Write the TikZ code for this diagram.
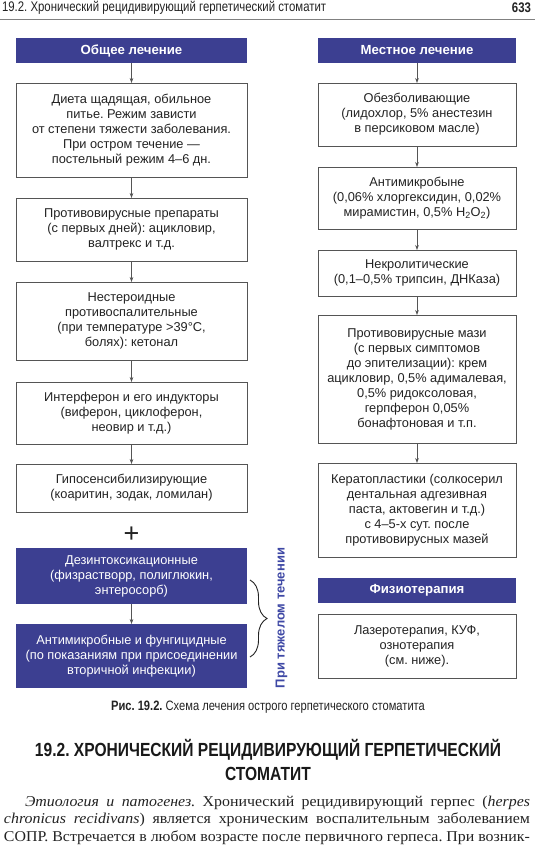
\documentclass[tikz,border=0pt]{standalone}
\usepackage{fontspec}
\setmainfont{Liberation Serif}
\setsansfont{Liberation Sans}
\newfontfamily\condf[FakeStretch=0.82]{Liberation Sans}
\newfontfamily\bodyf[FakeStretch=1.06]{Liberation Serif}
\usetikzlibrary{arrows.meta,decorations.pathreplacing}
\definecolor{hdrblue}{RGB}{60,63,145}
\definecolor{vblue}{RGB}{62,72,165}
\definecolor{boxline}{RGB}{85,85,85}
\definecolor{txt}{RGB}{35,35,35}
\begin{document}
\frenchspacing
\begin{tikzpicture}[x=1pt,y=-1pt,
  every node/.style={inner sep=0pt, outer sep=0pt},
  box/.style={draw=boxline, line width=0.8pt, fill=white, align=center, text=txt,
    font=\sffamily\fontsize{12.8}{15}\selectfont},
  lbox/.style={box, minimum width=231pt},
  rbox/.style={box, minimum width=198pt},
  hdr/.style={fill=hdrblue, text=white, font=\sffamily\bfseries\fontsize{13.2}{15}\selectfont, minimum height=25pt},
  dbox/.style={fill=hdrblue, text=white, align=center, minimum width=231pt,
    font=\sffamily\fontsize{12.8}{15}\selectfont},
  arr/.style={draw=boxline, line width=0.6pt, -{Stealth[length=5pt,width=3.6pt]}},
  bodyline/.style={anchor=base west, text=txt, font=\bodyf\frenchspacing\fontsize{15}{17.5}\selectfont},
]
\fill[white] (0,0) rectangle (535,852);
\useasboundingbox (0,0) rectangle (535,852);

% running header
\node[anchor=west, text=txt, font=\condf\fontsize{13.9}{15}\selectfont] (rh) at (2,8)
  {19.2. Хронический рецидивирующий герпетический стоматит};
\node[anchor=east, text=txt, font=\condf\bfseries\fontsize{13.9}{15}\selectfont] (pg) at (531,8) {633};
\draw[gray, line width=1pt] (0,19.5) -- (535,19.5);

% left column
\node[hdr, minimum width=231pt] (hL) at (131.5,50.5) {Общее лечение};
\node[lbox, minimum height=94pt] (b1) at (131.5,130)
  {Диета щадящая, обильное\\питье. Режим зависти\\от степени тяжести заболевания.\\При остром течение —\\постельный режим 4–6 дн.};
\node[lbox, minimum height=63pt] (b2) at (131.5,229.5)
  {Противовирусные препараты\\(с первых дней): ацикловир,\\валтрекс и т.д.};
\node[lbox, minimum height=78pt] (b3) at (131.5,321)
  {Нестероидные\\противоспалительные\\(при температуре >39°C,\\болях): кетонал};
\node[lbox, minimum height=62pt] (b4) at (131.5,413)
  {Интерферон и его индукторы\\(виферон, циклоферон,\\неовир и т.д.)};
\node[lbox, minimum height=48pt] (b5) at (131.5,488)
  {Гипосенсибилизирующие\\(коаритин, зодак, ломилан)};
\node[text=txt, font=\sffamily\fontsize{27}{27}\selectfont] (plus) at (131.5,535) {+};
\node[dbox, minimum height=56pt] (d1) at (131.5,576)
  {Дезинтоксикационные\\(физрастворр, полиглюкин,\\энтеросорб)};
\node[dbox, minimum height=64pt] (d2) at (131.5,656)
  {Антимикробные и фунгицидные\\(по показаниям при присоединении\\вторичной инфекции)};

\draw[arr] (hL) -- (b1);
\draw[arr] (b1) -- (b2);
\draw[arr] (b2) -- (b3);
\draw[arr] (b3) -- (b4);
\draw[arr] (b4) -- (b5);
\draw[arr] (d1) -- (d2);

% brace and vertical label
\coordinate (br1) at (250,580);
\coordinate (br2) at (250,657);
\draw[txt, line width=0.9pt, decorate, decoration={brace, amplitude=17pt}] (br1) -- (br2);
\node[rotate=90, text=vblue, font=\sffamily\bfseries\fontsize{13}{15}\selectfont] (vt) at (281.5,618)
  {При тяжелом течении};

% right column
\node[hdr, minimum width=198pt] (hR) at (417,50.5) {Местное лечение};
\node[rbox, minimum height=63pt] (r1) at (417,114.5)
  {Обезболивающие\\(лидохлор, 5\% анестезин\\в персиковом масле)};
\node[rbox, minimum height=62pt] (r2) at (417,198)
  {Антимикробыне\\(0,06\% хлоргексидин, 0,02\%\\мирамистин, 0,5\% H\textsubscript{2}O\textsubscript{2})};
\node[rbox, minimum height=46pt] (r3) at (417,273)
  {Некролитические\\(0,1–0,5\% трипсин, ДНКаза)};
\node[rbox, minimum height=128pt] (r4) at (417,379)
  {Противовирусные мази\\(с первых симптомов\\до эпителизации): крем\\ацикловир, 0,5\% адималевая,\\0,5\% ридоксоловая,\\герпферон 0,05\%\\бонафтоновая и т.п.};
\node[rbox, minimum height=94pt] (r5) at (417,510)
  {Кератопластики (солкосерил\\дентальная адгезивная\\паста, актовегин и т.д.)\\с 4–5-х сут. после\\противовирусных мазей};
\node[hdr, minimum width=198pt] (hF) at (417,590.5) {Физиотерапия};
\node[rbox, minimum height=64pt] (r6) at (417,646)
  {Лазеротерапия, КУФ,\\ознотерапия\\(см. ниже).};

\draw[arr] (hR) -- (r1);
\draw[arr] (r1) -- (r2);
\draw[arr] (r2) -- (r3);
\draw[arr] (r3) -- (r4);
\draw[arr] (r4) -- (r5);

% caption
\node[text=txt, font=\condf\fontsize{13.6}{15}\selectfont] (cap) at (268,707)
  {\textbf{Рис. 19.2.} Схема лечения острого герпетического стоматита};

% heading
\node[text=black!90, font=\condf\bfseries\fontsize{19}{24}\selectfont] (h1) at (268,750)
  {19.2. ХРОНИЧЕСКИЙ РЕЦИДИВИРУЮЩИЙ ГЕРПЕТИЧЕСКИЙ};
\node[text=black!90, font=\condf\bfseries\fontsize{19}{24}\selectfont] (h2) at (268,774)
  {СТОМАТИТ};

% body text
\node[bodyline] (l1) at (25,806)
  {\makebox[505pt][s]{\textit{Этиология и патогенез.} Хронический рецидивирующий герпес (\textit{herpes}}};
\node[bodyline] (l2) at (4,823.5)
  {\makebox[526pt][s]{\textit{chronicus recidivans}) является хроническим воспалительным заболеванием}};
\node[bodyline] (l3) at (4,841)
  {\makebox[526pt][s]{СОПР. Встречается в любом возрасте после первичного герпеса. При возник-}};
\end{tikzpicture}
\end{document}
